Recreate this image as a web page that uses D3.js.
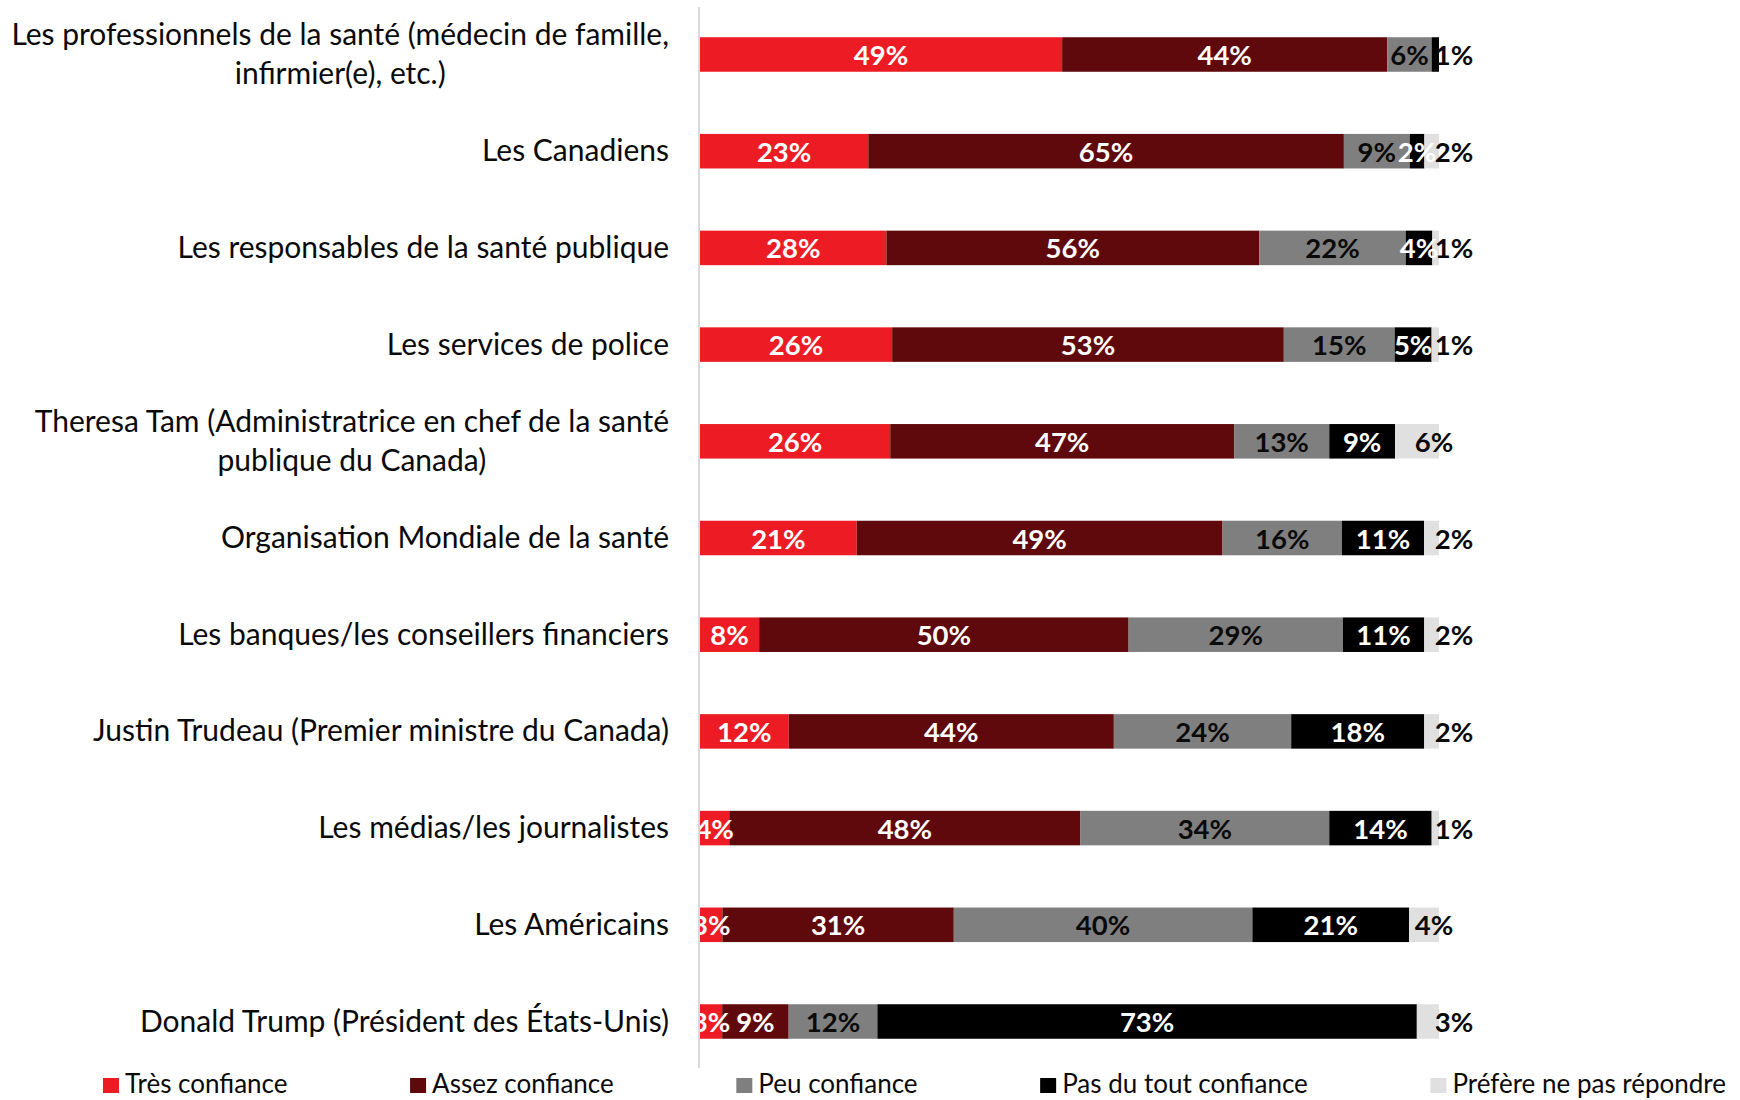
<!DOCTYPE html>
<html><head><meta charset="utf-8">
<script src="https://cdn.jsdelivr.net/npm/d3@7"></script>
<style>body{margin:0;background:#fff} svg{display:block}</style>
</head><body><svg id="c" width="1740" height="1100"></svg>
<script>
// ---------- data ----------
const categories = [
  "Les professionnels de la santé (médecin de famille,\ninfirmier(e), etc.)",
  "Les Canadiens",
  "Les responsables de la santé publique",
  "Les services de police",
  "Theresa Tam (Administratrice en chef de la santé\npublique du Canada)",
  "Organisation Mondiale de la santé",
  "Les banques/les conseillers financiers",
  "Justin Trudeau (Premier ministre du Canada)",
  "Les médias/les journalistes",
  "Les Américains",
  "Donald Trump (Président des États-Unis)"
];
const seriesNames = ["Très confiance", "Assez confiance", "Peu confiance", "Pas du tout confiance", "Préfère ne pas répondre"];
const tres      = [49, 23, 28, 26, 26, 21,  8, 12,  4,  3,  3];
const assez     = [44, 65, 56, 53, 47, 49, 50, 44, 48, 31,  9];
const peu       = [ 6,  9, 22, 15, 13, 16, 29, 24, 34, 40, 12];
const pasDuTout = [ 1,  2,  4,  5,  9, 11, 11, 18, 14, 21, 73];
const prefere   = [ 0,  2,  1,  1,  6,  2,  2,  2,  1,  4,  3];
const seriesColors = ["#ED1C24", "#5F090C", "#7F7F7F", "#000000", "#E0E0E0"];
const labelColors  = ["#FFFFFF", "#FFFFFF", "#0A0A0A", "#FFFFFF", "#0A0A0A"];

// ---------- layout ----------
const W = 1740, H = 1100;
const svg = d3.select("#c");
const FONT = "Lato, 'Open Sans', sans-serif";
const keys = seriesNames;
const seriesVals = [tres, assez, peu, pasDuTout, prefere];
const table = categories.map((c, i) => {
  const row = {cat: c};
  keys.forEach((k, s) => row[k] = seriesVals[s][i]);
  return row;
});
const stack = d3.stack().keys(keys).offset(d3.stackOffsetExpand);
const stacked = stack(table);

const x = d3.scaleLinear().domain([0, 1]).range([700, 1439]);
const y = d3.scaleBand().domain(categories).range([6.15, 1069.85])
  .paddingInner(0.643).paddingOuter(0.3215);

// axis line
svg.append("line").attr("x1", 699).attr("x2", 699).attr("y1", 7).attr("y2", 1068)
  .attr("stroke", "#D9D9D9").attr("stroke-width", 2);

// bars
const gBars = svg.append("g");
stacked.forEach((ser, s) => {
  gBars.selectAll(null).data(ser).enter().append("rect")
    .attr("x", d => x(d[0]))
    .attr("width", d => Math.max(0, x(d[1]) - x(d[0])))
    .attr("y", d => y(d.data.cat))
    .attr("height", y.bandwidth())
    .attr("fill", seriesColors[s]);
});

// clip for inner labels
svg.append("clipPath").attr("id", "clipL").append("rect")
  .attr("x", 700).attr("y", 0).attr("width", W - 700).attr("height", H);

const gLab = svg.append("g");
const gLabIn = gLab.append("g").attr("clip-path", "url(#clipL)");
const valFS = 27.5;
categories.forEach((c, i) => {
  let last = -1;
  keys.forEach((k, s) => { if (seriesVals[s][i] > 0) last = s; });
  const cy = y(c) + y.bandwidth() / 2;
  keys.forEach((k, s) => {
    const v = seriesVals[s][i];
    if (!(v > 0)) return;
    const seg = stacked[s][i];
    let tx, col, target;
    if (s === last) {
      tx = v >= 4 ? x(seg[1]) - 5 : x(seg[1]) + 15;
      col = "#0A0A0A";
      target = gLab;
    } else {
      tx = (x(seg[0]) + x(seg[1])) / 2;
      col = labelColors[s];
      target = gLabIn;
    }
    target.append("text")
      .attr("x", tx).attr("y", cy + 10.5)
      .attr("text-anchor", "middle")
      .attr("font-family", FONT).attr("font-weight", 700)
      .attr("font-size", valFS)
      .attr("fill", col)
      .text(v + "%");
  });
});

// category labels
const catFS = 30;
const gCat = svg.append("g");
categories.forEach(c => {
  const lines = c.split("\n");
  const cy = y(c) + y.bandwidth() / 2;
  const t = gCat.append("text")
    .attr("font-family", FONT).attr("font-size", catFS).attr("fill", "#0A0A0A")
    .attr("text-anchor", "middle");
  const tspans = lines.map((ln, k) => t.append("tspan").text(ln));
  const widths = tspans.map(ts => ts.node().getComputedTextLength());
  const wmax = d3.max(widths);
  const cx = 669 - wmax / 2;
  const n = lines.length;
  tspans.forEach((ts, k) => {
    ts.attr("x", cx)
      .attr("y", cy + 10 + (k - (n - 1) / 2) * 39);
  });
});

// legend
const legFS = 26;
const gLeg = svg.append("g");
const items = keys.map((k, s) => {
  const g = gLeg.append("g");
  g.append("rect").attr("width", 16).attr("height", 15).attr("y", 1078).attr("fill", seriesColors[s]);
  const t = g.append("text").attr("x", 22).attr("y", 1093)
    .attr("font-family", FONT).attr("font-size", legFS).attr("fill", "#0A0A0A").text(k);
  return {g, w: 22 + t.node().getComputedTextLength()};
});
const legLeft = 103, legRight = 1726;
const gap = (legRight - legLeft - d3.sum(items, d => d.w)) / (items.length - 1);
let lx = legLeft;
items.forEach(it => { it.g.attr("transform", `translate(${lx},0)`); lx += it.w + gap; });
</script>
</body></html>
